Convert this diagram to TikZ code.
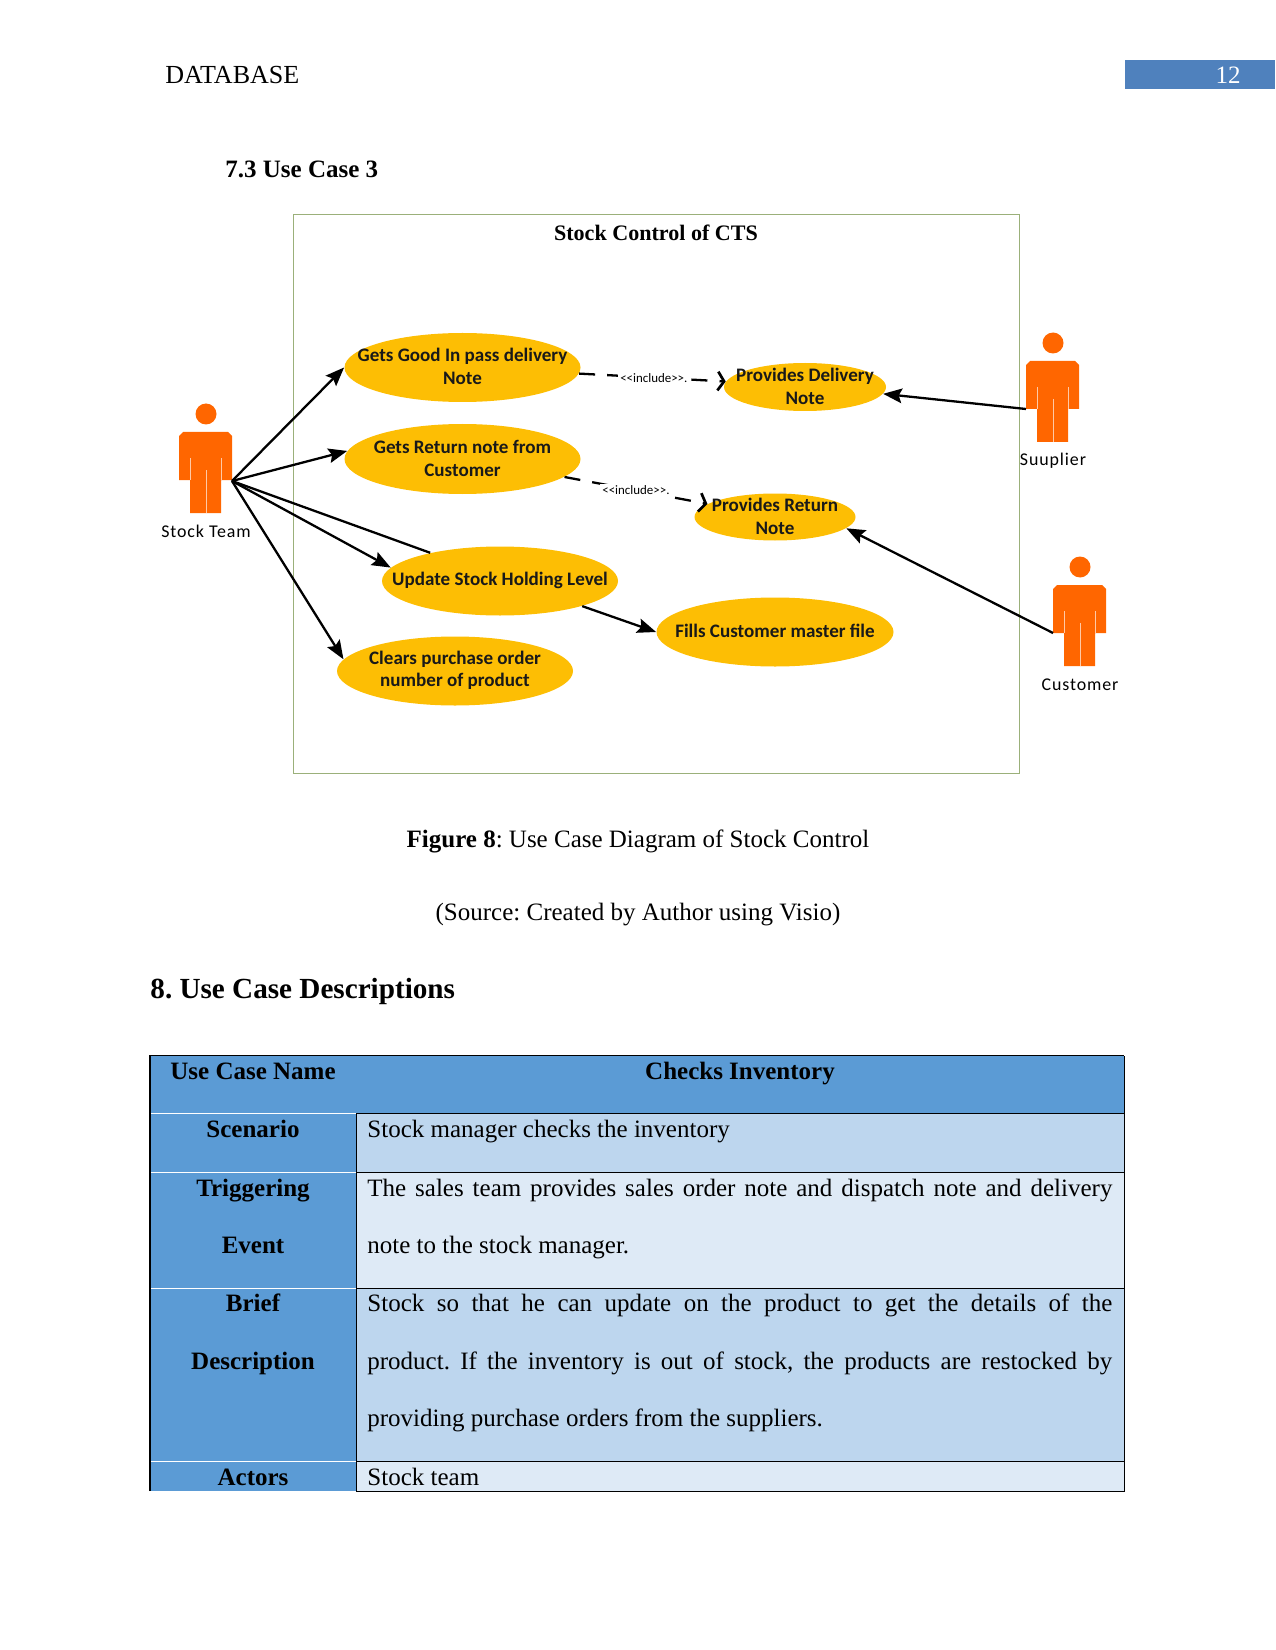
\documentclass[tikz,border=0pt]{standalone}
\usepackage{fontspec}
\setmainfont{Liberation Serif}
\newfontfamily\ucfont{Carlito}
\newfontfamily\actfont[LetterSpace=5]{Carlito}
\usetikzlibrary{shapes.geometric,arrows.meta}
\definecolor{ucfill}{HTML}{FDBE04}
\definecolor{actorc}{HTML}{FF6600}
\definecolor{framec}{HTML}{9BB07A}
\definecolor{hdrblue}{HTML}{4F81BD}
\definecolor{tdark}{HTML}{5B9BD5}
\definecolor{tmid}{HTML}{BDD6EE}
\definecolor{tlight}{HTML}{DEEAF6}
\tikzset{
  uctext/.style={inner sep=0pt,align=center,text=black!90,
    font=\ucfont\bfseries\fontsize{9.15}{10.9}\selectfont},
  usecase/.style n args={3}{ellipse,fill=ucfill,inner sep=0pt,
    minimum width=#1*0.48pt,minimum height=#2*0.48pt,
    label={[uctext,yshift=0.4pt]center:{#3}}},
  txt/.style={inner sep=0pt,anchor=base west,font=\fontsize{12}{14}\selectfont},
  ctxt/.style={inner sep=0pt,anchor=base,font=\fontsize{12}{14}\selectfont},
  bctxt/.style={ctxt,font=\fontsize{12}{14}\selectfont\bfseries},
  actlabel/.style={inner sep=0pt,font=\actfont\fontsize{8.6}{10}\selectfont},
  assoc/.style={line width=1.1pt,-{Stealth[length=9pt,width=7pt,inset=1.5pt]}},
  plainassoc/.style={line width=1.1pt},
  incl/.style={line width=1.1pt,dash pattern=on 7.7pt off 5.8pt,
    -{Straight Barb[length=3pt,width=9pt,line width=1.3pt]}},
  incllabel/.style={fill=white,inner sep=1pt,font=\ucfont\fontsize{6.2}{7}\selectfont},
  rowline/.style={line width=0.4pt},
  pics/actor/.style={code={
    \fill[actorc] (0,0) circle[radius=10.5];
    \fill[actorc] (-27,66) -- (-27,22) -- (-23,18) -- (22,18) -- (26,22) -- (26,66)
      -- (15,66) -- (15,99) -- (-16,99) -- (-16,66) -- cycle;
    \draw[actorc!35!white,line width=0.3pt] (-16,44) -- (-16,66) (15,44) -- (15,66) (0,56) -- (0,99);
    \coordinate (-lhand) at (-27,66);
    \coordinate (-rhand) at (26,67);
  }}
}
\begin{document}
\frenchspacing
\begin{tikzpicture}[x=0.48pt,y=-0.48pt]
\useasboundingbox (0,0) rectangle (1275,1650);
% page header
\node[txt,font=\fontsize{12.5}{14}\selectfont] (hdr) at (165,84) {DATABASE};
\fill[hdrblue] (1125,60) rectangle (1275,89);
\node[ctxt,text=white] (pno) at (1228,84) {12};
\node[txt,font=\fontsize{12}{14}\selectfont\bfseries] (h73) at (225,178) {7.3 Use Case 3};
% diagram frame
\draw[framec,line width=0.4pt] (293.5,214) rectangle (1019.5,773);
\node[bctxt,font=\fontsize{10.6}{13}\selectfont\bfseries] (title) at (656,241) {Stock Control of CTS};
% use cases
\node[usecase={236}{69}{Gets Good In pass delivery\\Note}] (e1) at (462.5,367.5) {};
\node[usecase={236}{70}{Gets Return note from\\Customer}] (e2) at (462.5,459) {};
\node[usecase={236}{69}{Update Stock Holding Level}] (e3) at (500,581) {};
\node[usecase={236}{69}{Clears purchase order\\number of product}] (e4) at (455,671) {};
\node[usecase={237}{69}{Fills Customer master file}] (e5) at (775,632) {};
\node[usecase={162}{48}{Provides Delivery\\Note}] (e6) at (805,387) {};
\node[usecase={161}{47}{Provides Return\\Note}] (e7) at (775,517) {};
% actors
\pic (st) at (206,414) {actor};
\pic (su) at (1053,343) {actor};
\pic (cu) at (1080,567) {actor};
\node[actlabel] (stl) at (206,531) {Stock Team};
\node[actlabel] (sul) at (1053,461) {Suuplier};
\node[actlabel] (cul) at (1080,685) {Customer};
% connectors
\draw[assoc] (st-rhand) -- (e1.west);
\draw[assoc] (st-rhand) -- (e2.176);
\draw[plainassoc] (st-rhand) -- (e3.158);
\draw[assoc] (st-rhand) -- (e3.173);
\draw[assoc] (st-rhand) -- (e4.174);
\draw[assoc] (e3.-17) -- (e5.west);
\draw[assoc] (su-lhand) -- (e6.-5);
\draw[assoc] (cu-lhand) -- (e7.-9);
\draw[incl] (e1.-3) -- node[incllabel,pos=.51] (il1) {<<include>>.} (e6.176);
\draw[incl] (e2.-10) -- node[incllabel,pos=.50] (il2) {<<include>>.} (e7.169);
% captions
\node[ctxt] (cap1) at (638,847) {\textbf{Figure 8}: Use Case Diagram of Stock Control};
\node[ctxt] (cap2) at (638,920) {(Source: Created by Author using Visio)};
\node[txt,font=\fontsize{14}{16}\selectfont\bfseries] (h8) at (150,998) {8. Use Case Descriptions};
% table
\fill[tdark] (150,1055.5) rectangle (1124,1113.5);
\fill[tdark] (150,1113.5) rectangle (356,1491);
\fill[tmid] (356,1113.5) rectangle (1124,1172.5);
\fill[tlight] (356,1172.5) rectangle (1124,1288);
\fill[tmid] (356,1288) rectangle (1124,1461);
\fill[tlight] (356,1461) rectangle (1124,1491);
\draw[white,rowline] (150,1113.5) -- (356,1113.5) (150,1172.5) -- (356,1172.5) (150,1288) -- (356,1288) (150,1461) -- (356,1461);
\draw[black,rowline] (356,1113.5) -- (1124,1113.5) (356,1172.5) -- (1124,1172.5) (356,1288) -- (1124,1288) (356,1461) -- (1124,1461)
  (356,1491) -- (1124,1491) -- (1124,1055.5) (356,1113.5) -- (356,1491);
\draw[black,line width=0.6pt] (150,1491) -- (150,1055.5) -- (1124,1055.5);
\node[bctxt] (t1) at (253,1079) {Use Case Name};
\node[bctxt] (t2) at (740,1079) {Checks Inventory};
\node[bctxt] (t3) at (253,1137) {Scenario};
\node[bctxt] (t4) at (253,1196) {Triggering};
\node[bctxt] (t5) at (253,1253) {Event};
\node[bctxt] (t6) at (253,1311) {Brief};
\node[bctxt] (t7) at (253,1369) {Description};
\node[bctxt] (t8) at (253,1485) {Actors};
\node[txt] (r1) at (367,1137) {Stock manager checks the inventory};
\node[txt] (r2) at (367,1196) {\makebox[357.6pt][s]{The sales team provides sales order note and dispatch note and delivery}};
\node[txt] (r3) at (367,1253) {note to the stock manager.};
\node[txt] (r4) at (367,1311) {\makebox[357.6pt][s]{Stock so that he can update on the product to get the details of the}};
\node[txt] (r5) at (367,1369) {\makebox[357.6pt][s]{product. If the inventory is out of stock, the products are restocked by}};
\node[txt] (r6) at (367,1426) {providing purchase orders from the suppliers.};
\node[txt] (r7) at (367,1485) {Stock team};
\end{tikzpicture}
\end{document}
